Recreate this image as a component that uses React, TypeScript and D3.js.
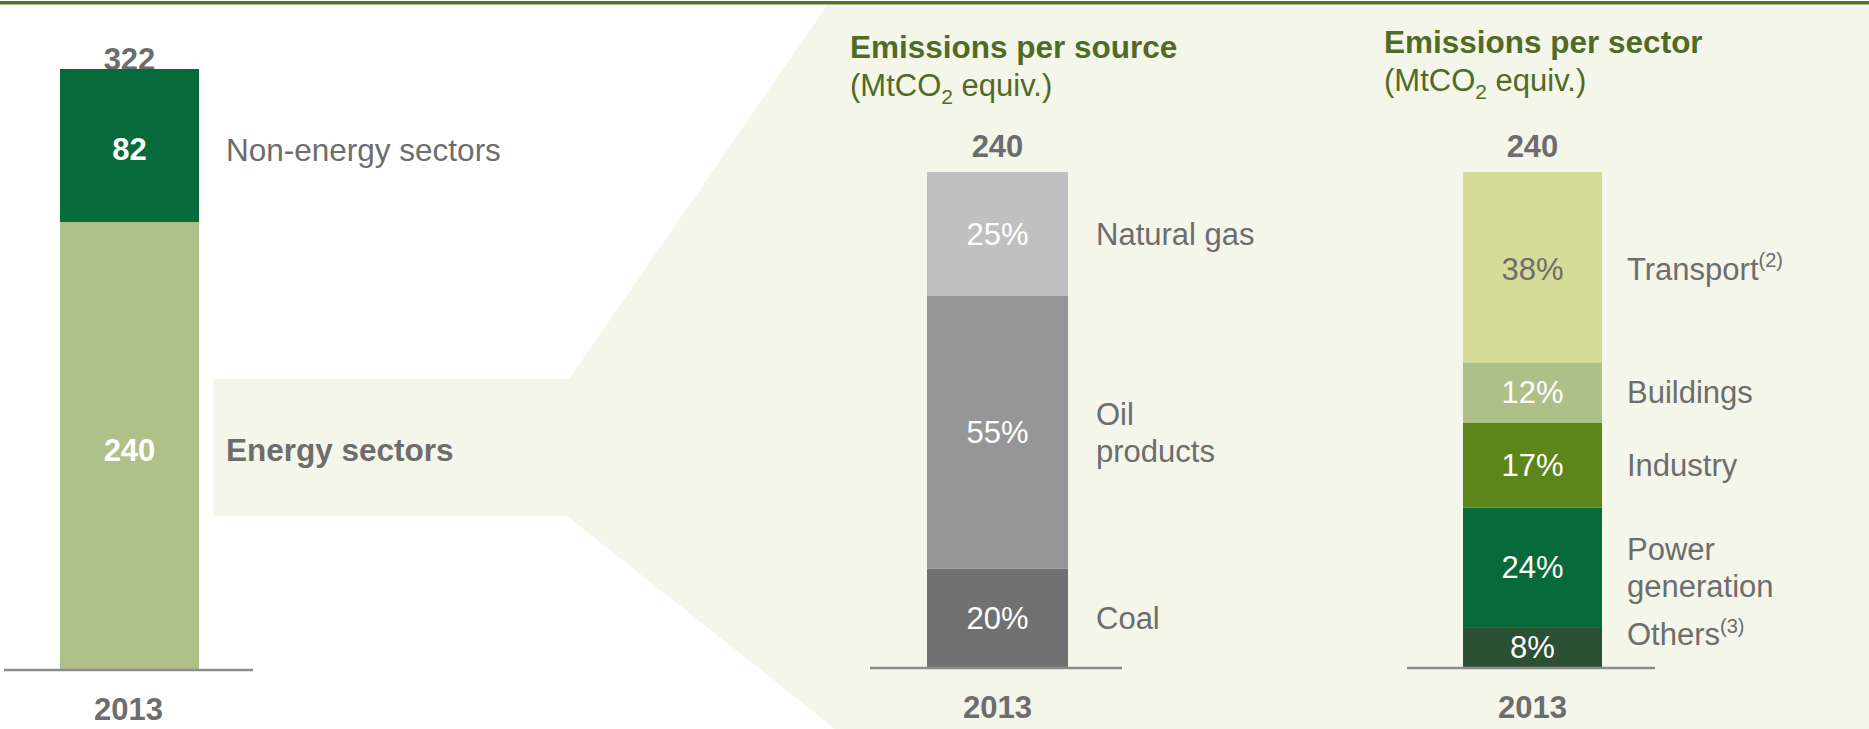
import React from "react";
import * as d3 from "d3";

// ---------- data ----------
const year = "2013";

const totalCategories = ["Energy sectors", "Non-energy sectors"];
const totalValues = [240, 82];

const sourceCategories = ["Coal", "Oil\nproducts", "Natural gas"];
const sourceValues = [20, 55, 25];
const sourceTotal = 240;

const sectorCategories = ["Others", "Power\ngeneration", "Industry", "Buildings", "Transport"];
const sectorNotes = ["(3)", "", "", "", "(2)"];
const sectorValues = [8, 24, 17, 12, 38];
const sectorTotal = 240;

const titles = ["Emissions per source", "Emissions per sector"];
const unitLabel = ["(MtCO", "2", " equiv.)"];

// ---------- styles ----------
const W = 1869;
const H = 729;
const FONT = "'Liberation Sans', Arial, Helvetica, sans-serif";
const GRAY = "#6d6d6d";
const TITLE_GREEN = "#526a28";
const BG = "#f4f6e9";
const AXIS = "#8c8c8c";
const totalColors = ["#adc188", "#066a3a"];
const sourceColors = ["#717171", "#969696", "#c0c0c0"];
const sectorColors = ["#2c5033", "#066a3a", "#5c8619", "#adc088", "#d4dc98"];
const sectorTextColors = ["#fff", "#fff", "#fff", "#fff", GRAY];

type Seg = { key: string; v0: number; v1: number; i: number };
function stackSegs(cats: string[], vals: number[]): Seg[] {
  const row: any = {};
  cats.forEach((c, i) => (row[c] = vals[i]));
  const st = d3.stack<any>().keys(cats)([row]);
  return st.map((s, i) => ({ key: cats[i], v0: s[0][0], v1: s[0][1], i }));
}

export default function App() {
  const baseY = 670;
  const barW = 139;

  // left chart
  const leftSegs = stackSegs(totalCategories, totalValues);
  const leftSum = d3.sum(totalValues);
  const yL = d3.scaleLinear().domain([0, leftSum]).range([baseY, 69]);
  const xL = d3.scaleBand().domain([year]).range([4, 253]).paddingInner(0).paddingOuter(0.22);
  const lx = 60;

  // middle chart
  const midSegs = stackSegs(sourceCategories, sourceValues);
  const yM = d3.scaleLinear().domain([0, d3.sum(sourceValues)]).range([668, 172]);
  const mx = 927;

  // right chart
  const rSegs = stackSegs(sectorCategories, sectorValues);
  const yR = d3.scaleLinear().domain([0, d3.sum(sectorValues)]).range([668, 172]);
  const rx = 1463;

  const bgPath = [
    [828, 4], [W, 4], [W, H], [835, H], [567, 516], [213, 516], [213, 379], [569, 379],
  ];
  const bgLine = d3.line()(bgPath as [number, number][]) + "Z";

  const multiline = (text: string, x: number, yc: number, props: any, lineH = 37) => {
    const lines = text.split("\n");
    const off = -((lines.length - 1) * lineH) / 2;
    return (
      <text x={x} y={yc + off} dominantBaseline="central" {...props}>
        {lines.map((l, k) => (
          <tspan key={k} x={x} dy={k === 0 ? 0 : lineH}>
            {l}
          </tspan>
        ))}
      </text>
    );
  };

  const midCenter = mx + barW / 2 + 1;
  const rCenter = rx + barW / 2;

  return (
    <div style={{ position: "absolute", left: 0, top: 0 }}>
      <svg width={W} height={H} style={{ display: "block", fontFamily: FONT }}>
        <rect x={0} y={0} width={W} height={H} fill="#fff" />
        <path d={bgLine} fill={BG} />
        <rect x={0} y={1} width={W} height={3} fill="#5a6e2e" />
        <rect x={0} y={4} width={W} height={1} fill="#a9b58d" />

        {/* LEFT CHART */}
        <text x={lx + barW / 2} y={70} textAnchor="middle" fontSize={31} fontWeight="bold" fill={GRAY}>
          {d3.format("d")(leftSum)}
        </text>
        {leftSegs.map((s) => {
          const yc = (yL(s.v0) + yL(s.v1)) / 2 + 4;
          return (
            <g key={s.key}>
              <rect x={lx} y={yL(s.v1)} width={barW} height={yL(s.v0) - yL(s.v1)} fill={totalColors[s.i]} />
              <text
                x={lx + barW / 2}
                y={yc}
                textAnchor="middle"
                dominantBaseline="central"
                fontSize={31}
                fontWeight="bold"
                fill="#fff"
              >
                {totalValues[s.i]}
              </text>
              <text
                x={226}
                y={yc}
                dominantBaseline="central"
                fontSize={31.5}
                fontWeight={s.i === 0 ? "bold" : "normal"}
                fill={GRAY}
              >
                {s.key}
              </text>
            </g>
          );
        })}
        <line x1={4} x2={253} y1={baseY} y2={baseY} stroke={AXIS} strokeWidth={2.5} />
        <text x={(xL(year) as number) + xL.bandwidth() / 2} y={720} textAnchor="middle" fontSize={31} fontWeight="bold" fill={GRAY}>
          {year}
        </text>

        {/* MIDDLE CHART */}
        <text x={850} y={58} fontSize={31.5} fontWeight="bold" fill={TITLE_GREEN}>
          {titles[0]}
        </text>
        <text x={850} y={96} fontSize={31} fill={TITLE_GREEN}>
          {unitLabel[0]}
          <tspan fontSize={21} dy={8}>{unitLabel[1]}</tspan>
          <tspan dy={-8}>{unitLabel[2]}</tspan>
        </text>
        <text x={midCenter} y={157} textAnchor="middle" fontSize={31} fontWeight="bold" fill={GRAY}>
          {sourceTotal}
        </text>
        {midSegs.map((s) => {
          const yc = (yM(s.v0) + yM(s.v1)) / 2;
          return (
            <g key={s.key}>
              <rect x={mx} y={yM(s.v1)} width={barW + 2} height={yM(s.v0) - yM(s.v1)} fill={sourceColors[s.i]} />
              <text x={midCenter} y={yc} textAnchor="middle" dominantBaseline="central" fontSize={31} fill="#fff">
                {sourceValues[s.i] + "%"}
              </text>
              {multiline(s.key, 1096, yc, { fontSize: 31, fill: GRAY })}
            </g>
          );
        })}
        <line x1={870} x2={1122} y1={668} y2={668} stroke={AXIS} strokeWidth={2.5} />
        <text x={midCenter} y={718} textAnchor="middle" fontSize={31} fontWeight="bold" fill={GRAY}>
          {year}
        </text>

        {/* RIGHT CHART */}
        <text x={1384} y={53} fontSize={31.5} fontWeight="bold" fill={TITLE_GREEN}>
          {titles[1]}
        </text>
        <text x={1384} y={91} fontSize={31} fill={TITLE_GREEN}>
          {unitLabel[0]}
          <tspan fontSize={21} dy={8}>{unitLabel[1]}</tspan>
          <tspan dy={-8}>{unitLabel[2]}</tspan>
        </text>
        <text x={rCenter} y={157} textAnchor="middle" fontSize={31} fontWeight="bold" fill={GRAY}>
          {sectorTotal}
        </text>
        {rSegs.map((s) => {
          const yc = (yR(s.v0) + yR(s.v1)) / 2 + (s.i === 4 ? 2 : 0);
          const labelY = s.i === 0 ? yc - 13 : yc;
          const lines = s.key.split("\n");
          return (
            <g key={s.key}>
              <rect x={rx} y={yR(s.v1)} width={barW} height={yR(s.v0) - yR(s.v1)} fill={sectorColors[s.i]} />
              <text x={rCenter} y={yc} textAnchor="middle" dominantBaseline="central" fontSize={31} fill={sectorTextColors[s.i]}>
                {sectorValues[s.i] + "%"}
              </text>
              {lines.length > 1 ? (
                multiline(s.key, 1627, yc, { fontSize: 31, fill: GRAY })
              ) : (
                <text x={1627} y={labelY} dominantBaseline="central" fontSize={31} fill={GRAY}>
                  {s.key}
                  {sectorNotes[s.i] ? (
                    <tspan fontSize={20} dy={-9}>{sectorNotes[s.i]}</tspan>
                  ) : null}
                </text>
              )}
            </g>
          );
        })}
        <line x1={1407} x2={1655} y1={668} y2={668} stroke={AXIS} strokeWidth={2.5} />
        <text x={rCenter} y={718} textAnchor="middle" fontSize={31} fontWeight="bold" fill={GRAY}>
          {year}
        </text>
      </svg>
    </div>
  );
}
